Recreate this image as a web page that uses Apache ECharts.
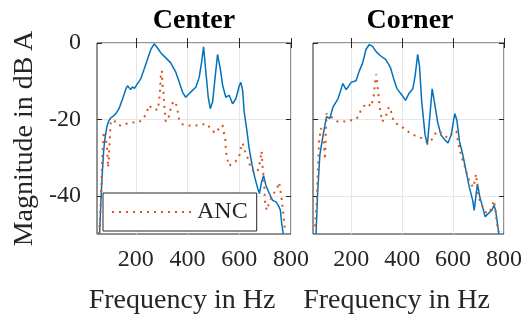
<!DOCTYPE html>
<html>
<head>
<meta charset="utf-8">
<script src="https://cdn.jsdelivr.net/npm/echarts@6/dist/echarts.min.js"></script>
<style>
  html, body { margin: 0; padding: 0; background: #fff; }
  #chart { width: 525px; height: 320px; }
</style>
</head>
<body>
<div id="chart"></div>
<script>
// panel titles and tick labels
const panelTitles = ['Center', 'Corner'];
const freqTicks = [200, 400, 600, 800];
const levelTicks = [-40, -20, 0];

// Center: reference (solid blue)
const centerRefHz = [60, 66, 71, 76, 81, 88, 94, 102, 110, 123, 135, 149, 162, 168, 174, 180, 187, 195, 206, 219, 232, 245, 258, 271, 284, 297, 316, 335, 355, 368, 381, 393, 406, 419, 432, 445, 454, 462, 471, 480, 488, 497, 506, 516, 527, 536, 548, 561, 574, 587, 600, 606, 613, 619, 630, 638, 649, 660, 672, 678, 686, 694, 703, 716, 729, 742, 751, 759, 764, 770];
const centerRefDb = [-50, -40, -33.5, -28, -24.9, -22, -20.6, -19.7, -19.3, -18.5, -17.2, -14.6, -12, -11.2, -10.7, -12.2, -11.5, -11.9, -10.7, -9.4, -6.9, -4.3, -1.7, -0.2, -1.3, -2.6, -3.9, -5.2, -7.7, -10.3, -12.9, -14.2, -13.3, -12.4, -11.6, -9, -5.2, -1.0, -7.7, -14.2, -17.2, -15.4, -9.4, -3.0, -6.9, -11.2, -14.2, -13.7, -15.9, -14.6, -11.2, -10.3, -12.4, -18.0, -23.2, -27.5, -31.8, -35.2, -38.2, -39.4, -36.5, -34.7, -37.3, -39.4, -41.2, -41.6, -42.5, -43.8, -47.2, -50];

// Center: ANC (dotted red)
const centerAncHz = [58, 62, 66, 71, 76, 81, 88, 90, 93, 95, 103, 116, 129, 149, 168, 187, 206, 226, 236, 245, 251, 264, 275, 284, 290, 294, 297, 301, 303, 307, 310, 314, 316, 326, 335, 344, 354, 361, 368, 381, 407, 433, 460, 478, 490, 509, 522, 535, 541, 546, 548, 551, 561, 574, 587, 600, 606, 613, 622, 632, 642, 658, 671, 681, 686, 690, 696, 699, 706, 719, 733, 746, 754, 763, 770, 776];
const centerAncDb = [-50, -46, -39.5, -29.2, -23.2, -24.5, -26.6, -28.8, -32.6, -31, -20.6, -20.2, -21.5, -21.6, -21, -20.8, -20.8, -20.2, -19, -17.6, -16.3, -17.2, -17.2, -17.6, -15.4, -12, -8.4, -7.3, -10.8, -12.9, -16.3, -19.3, -20.6, -19.7, -17.2, -15.4, -15.4, -17.6, -20.2, -21.3, -21.6, -21.6, -21.3, -21.3, -22.7, -23.6, -22.3, -21.5, -23.6, -25.3, -27.5, -29.6, -32.2, -31.4, -30.9, -29.6, -27.5, -26.2, -28.3, -30.0, -32.2, -33.9, -33.5, -30.9, -28.3, -32.2, -36, -41.2, -43.8, -41.2, -39.4, -38.1, -36.5, -40.3, -44.6, -48.5];

// Corner: reference (solid blue)
const cornerRefHz = [62, 68, 77, 90, 103, 116, 129, 148, 161, 167, 174, 180, 187, 200, 219, 232, 245, 258, 271, 284, 297, 316, 335, 354, 367, 380, 400, 413, 426, 442, 451, 461, 468, 477, 490, 499, 507, 518, 529, 539, 552, 567, 580, 593, 602, 607, 615, 625, 638, 651, 664, 677, 683, 690, 696, 705, 716, 726, 739, 752, 761, 767, 780];
const cornerRefDb = [-50, -39.5, -29.2, -24, -19.3, -19.7, -16.7, -14.6, -12, -10.6, -10.3, -12.2, -11.6, -10.3, -9.9, -7.3, -5.2, -1.7, -0.4, -0.9, -2.2, -3.4, -4.3, -6.4, -9.4, -12, -13.7, -15, -13.3, -12, -8.6, -3, -6, -15.4, -24, -26.6, -20.6, -12, -16.3, -20.6, -24, -25.3, -26.2, -24, -20.2, -18.5, -20.2, -25.7, -29.2, -33.5, -37.8, -41.2, -43.8, -39.9, -36.9, -40.3, -42.9, -45.5, -44.6, -43.8, -42.5, -43.8, -50];

// Corner: ANC (dotted red)
const cornerAncHz = [58, 65, 69, 74, 81, 90, 97, 103, 116, 129, 148, 168, 193, 213, 228, 238, 248, 258, 268, 277, 287, 293, 298, 306, 313, 322, 335, 348, 357, 367, 387, 406, 432, 458, 477, 490, 503, 522, 535, 548, 561, 580, 593, 602, 613, 619, 628, 638, 648, 658, 664, 670, 680, 690, 693, 696, 703, 716, 726, 739, 748, 761, 767, 774, 778];
const cornerAncDb = [-48, -41.2, -33.5, -25.7, -22.3, -24, -30.5, -18.5, -18.7, -19.9, -20.6, -20.6, -20.2, -20.2, -19.3, -17.6, -16.7, -15.9, -15.9, -16.7, -14.6, -10.7, -8.2, -12.9, -17.2, -20.6, -19.3, -16.7, -18, -20.6, -21.5, -22.3, -23.6, -24.5, -24.9, -25.7, -26.2, -24.9, -23.2, -23.2, -24, -24.9, -24, -23.2, -23.2, -25.7, -28.3, -30.9, -32.6, -35.2, -36, -36.9, -37.8, -34.3, -36, -38.6, -40.8, -42.9, -44.2, -44.6, -43.6, -41.2, -44.2, -48, -49.5];

const FONT = 'Liberation Serif';
const INK = '#262626';
const BLUE = '#0072BD';
const RED = '#D95319';

const zip = (xs, ys) => xs.map((x, i) => [x, ys[i]]);

const chart = echarts.init(document.getElementById('chart'));

const grids = [
  { left: 97, right: 234, top: 43, bottom: 84 },
  { left: 313, right: 18, top: 43, bottom: 84 }
];

const xAxes = [];
const yAxes = [];
grids.forEach((g, i) => {
  // bottom
  xAxes.push({
    type: 'value', gridIndex: i, min: 50, max: 800,
    name: 'Frequency in Hz', nameLocation: 'middle', nameGap: 53,
    nameTextStyle: { fontFamily: FONT, fontSize: 28, color: INK, padding: [0, 24, 0, 0] },
    axisLine: { show: false },
    axisTick: { inside: true, length: 5, lineStyle: { color: INK }, customValues: freqTicks },
    axisLabel: { fontFamily: FONT, fontSize: 24, color: INK, margin: 14, customValues: freqTicks },
    splitLine: { show: true, lineStyle: { color: '#E6E6E6', width: 1 } }
  });
  // top (ticks only)
  xAxes.push({
    type: 'value', gridIndex: i, min: 50, max: 800, position: 'top',
    axisLine: { show: false },
    axisTick: { inside: true, length: 5, lineStyle: { color: INK }, customValues: freqTicks },
    axisLabel: { show: false },
    splitLine: { show: false }
  });
  // left
  yAxes.push({
    type: 'value', gridIndex: i, min: -50, max: 0,
    name: i === 0 ? 'Magnitude in dB\u2009A' : '', nameLocation: 'middle', nameGap: 58,
    nameTextStyle: { fontFamily: FONT, fontSize: 28, color: INK },
    axisLine: { show: false },
    axisTick: { inside: true, length: 5, lineStyle: { color: INK }, customValues: levelTicks },
    axisLabel: { show: i === 0, fontFamily: FONT, fontSize: 24, color: INK, margin: 16, customValues: levelTicks },
    splitLine: { show: true, lineStyle: { color: '#E6E6E6', width: 1 } }
  });
  // right (ticks only)
  yAxes.push({
    type: 'value', gridIndex: i, min: -50, max: 0, position: 'right',
    axisLine: { show: false },
    axisTick: { inside: true, length: 5, lineStyle: { color: INK }, customValues: levelTicks },
    axisLabel: { show: false },
    splitLine: { show: false }
  });
});

const line = (name, data, panel, color, dotted) => ({
  name, type: 'line', data,
  xAxisIndex: panel * 2, yAxisIndex: panel * 2,
  symbol: 'none', silent: true, animation: false,
  clip: true,
  color,
  itemStyle: { color },
  lineStyle: dotted
    ? { color, width: 2, type: [2, 5] }
    : { color, width: 1.5 }
});

chart.setOption({
  backgroundColor: '#fff',
  animation: false,
  title: panelTitles.map((t, i) => ({
    text: t,
    left: i === 0 ? 189 : 405,
    top: 2,
    textAlign: 'center',
    textStyle: { fontFamily: FONT, fontSize: 28, fontWeight: 'bold', color: '#000' }
  })),
  grid: grids.map(g => Object.assign({ show: true, borderColor: INK, borderWidth: 1, backgroundColor: '#fff' }, g)),
  xAxis: xAxes,
  yAxis: yAxes,
  legend: {
    data: ['ANC'],
    left: 103, top: 193,
    orient: 'vertical',
    backgroundColor: '#fff',
    borderColor: INK, borderWidth: 1, borderRadius: 0,
    padding: [7, 9, 7, 8],
    itemWidth: 80, itemHeight: 14,
    itemStyle: { opacity: 0 },
    textStyle: { fontFamily: FONT, fontSize: 24, color: INK },
    selectedMode: false
  },
  series: [
    line('Reference', zip(centerRefHz, centerRefDb), 0, BLUE, false),
    line('ANC', zip(centerAncHz, centerAncDb), 0, RED, true),
    line('Reference', zip(cornerRefHz, cornerRefDb), 1, BLUE, false),
    line('ANC', zip(cornerAncHz, cornerAncDb), 1, RED, true)
  ]
});
</script>
</body>
</html>
